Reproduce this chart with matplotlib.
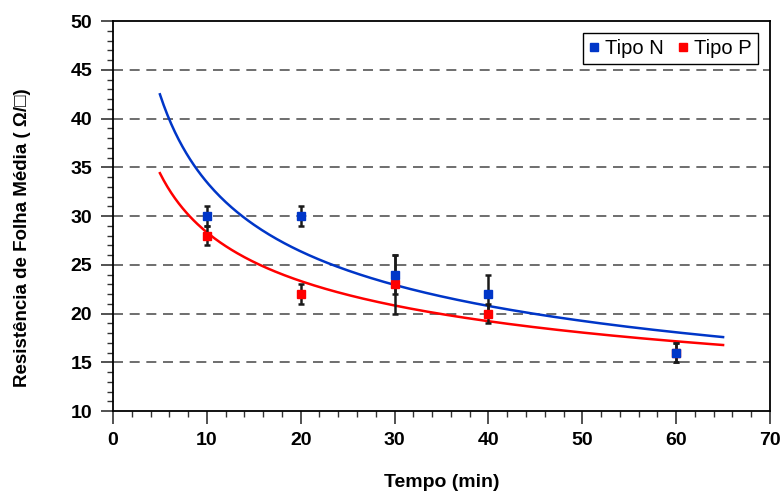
import numpy as np
import matplotlib
matplotlib.use("Agg")
import matplotlib.pyplot as plt
from matplotlib.ticker import MultipleLocator

plt.rcParams['font.family'] = ['Liberation Sans', 'DejaVu Sans']

# dados
tempo_n = [10, 20, 30, 40, 60]
rs_n = [30, 30, 24, 22, 16]
err_n = [1, 1, 2, 2, 1]

tempo_p = [10, 20, 30, 40, 60]
rs_p = [28, 22, 23, 20, 16]
err_p = [1, 1, 3, 1, 1]

azul = '#0036C8'
vermelho = '#FF0000'

fig = plt.figure(figsize=(7.83, 4.91), dpi=100)
ax = fig.add_axes([0.1443, 0.1629, 0.8391, 0.7943])

# linhas de tendencia (potencia) ajustadas aos dados
t = np.linspace(5, 65, 300)
for x, y, c in [(tempo_p, rs_p, vermelho), (tempo_n, rs_n, azul)]:
    b, lna = np.polyfit(np.log(x), np.log(y), 1)
    ax.plot(t, np.exp(lna) * t ** b, color=c, lw=1.8, zorder=3)

ax.errorbar(tempo_p, rs_p, yerr=err_p, fmt='none', ecolor='#1a1a1a',
            elinewidth=1.8, capsize=2.5, capthick=1.8, zorder=4)
ax.errorbar(tempo_n, rs_n, yerr=err_n, fmt='none', ecolor='#1a1a1a',
            elinewidth=1.8, capsize=2.5, capthick=1.8, zorder=4)
ax.plot(tempo_p, rs_p, 's', color=vermelho, ms=6, zorder=5, label='Tipo P')
ax.plot(tempo_n, rs_n, 's', color=azul, ms=6, zorder=6, label='Tipo N')

ax.set_xlim(0, 70)
ax.set_ylim(10, 50)
ax.xaxis.set_major_locator(MultipleLocator(10))
ax.xaxis.set_minor_locator(MultipleLocator(2))
ax.yaxis.set_major_locator(MultipleLocator(5))
ax.yaxis.set_minor_locator(MultipleLocator(1))
ax.tick_params(which='major', length=9, width=1.2, color='#333333',
               labelsize=14, pad=6)
ax.tick_params(which='minor', length=4, width=1.0, color='#333333')
for lbl in ax.get_xticklabels() + ax.get_yticklabels():
    lbl.set_fontweight('bold')

for yv in range(15, 50, 5):
    ax.axhline(yv, color='#555555', lw=1.2, ls=(0, (6, 4)), zorder=1)

for s in ax.spines.values():
    s.set_linewidth(1.3)
    s.set_color('black')

ax.set_xlabel('Tempo (min)', fontsize=14, fontweight='bold', labelpad=18)
ax.set_ylabel('Resistência de Folha Média ( Ω/□)', fontsize=13.5,
              fontweight='bold')
ax.yaxis.set_label_coords(-0.125, 0.444)

h, l = ax.get_legend_handles_labels()
leg = ax.legend([h[1], h[0]], [l[1], l[0]], loc='upper right', ncol=2,
                fontsize=14.5, fancybox=False, edgecolor='black',
                handlelength=0.5, handletextpad=0.3, columnspacing=0.7,
                borderaxespad=0.6, markerscale=0.9, framealpha=1,
                borderpad=0.3)
leg.get_frame().set_linewidth(1.0)

fig.savefig('out.png', dpi=100)
